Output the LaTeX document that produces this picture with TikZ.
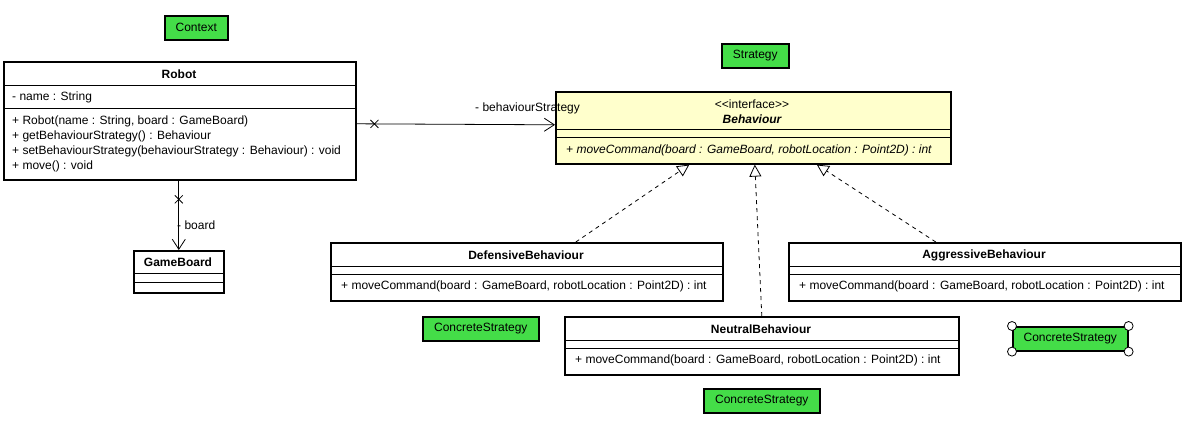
\documentclass[tikz,border=0pt]{standalone}
\usepackage{fontspec}
\setmainfont{Liberation Sans}
\usetikzlibrary{arrows.meta}
\definecolor{umlgreen}{RGB}{68,221,72}
\definecolor{umlyellow}{RGB}{255,255,204}
\begin{document}
\begin{tikzpicture}[x=1pt,y=-1pt,
 every node/.style={font=\fontsize{12}{14}\selectfont, inner sep=0pt},
 classbox/.style={draw, line width=1.6pt, anchor=north west, fill=white},
 sep/.style={line width=0.8pt},
 tag/.style={draw, line width=1.6pt, fill=umlgreen, anchor=north west},
 txt/.style={anchor=west},
 ttl/.style={font=\fontsize{12}{14}\selectfont\bfseries},
 assoc/.style={line width=0.8pt, -{Straight Barb[length=10pt,width=13pt]}},
 realize/.style={line width=0.8pt, dash pattern=on 4pt off 4pt, -{Triangle[open,length=12pt,width=12pt,fill=white]}},
 xmark/.style={line width=0.8pt},
 handle/.style={draw, fill=white, line width=0.8pt}
]
\useasboundingbox (0,0) rectangle (1199,437);

% tags
\node[tag, minimum width=63pt, minimum height=24pt] (ctx) at (164,15) {};
\node (ctxT) at (ctx.center) {Context};
\node[tag, minimum width=67pt, minimum height=24pt] (strat) at (721,43) {};
\node (stratT) at (strat.center) {Strategy};
\node[tag, minimum width=116pt, minimum height=24pt] (cs1) at (422,316) {};
\node (cs1T) at (cs1.center) {ConcreteStrategy};
\node[tag, minimum width=116pt, minimum height=24pt] (cs3) at (703,388) {};
\node (cs3T) at (cs3.center) {ConcreteStrategy};
\node[tag, minimum width=115pt, minimum height=24pt] (cs2) at (1012,326) {};
\node (cs2T) at (cs2.center) {ConcreteStrategy};
\foreach \a in {north west,north east,south west,south east}
  \draw[handle] (cs2.\a) circle[radius=4.5pt];

% Robot
\node[classbox, minimum width=352pt, minimum height=118pt] (robot) at (3,61) {};
\draw[sep] ([yshift=-24pt]robot.north west) -- ([yshift=-24pt]robot.north east);
\draw[sep] ([yshift=-47pt]robot.north west) -- ([yshift=-47pt]robot.north east);
\node[ttl] (robotT) at (179,74) {Robot};
\node[txt] (robotA) at (12,97) {- name : String};
\node[txt] (robotM1) at (12,121) {+ Robot(name : String, board : GameBoard)};
\node[txt] (robotM2) at (12,136) {+ getBehaviourStrategy() : Behaviour};
\node[txt] (robotM3) at (12,151) {+ setBehaviourStrategy(behaviourStrategy : Behaviour) : void};
\node[txt] (robotM4) at (12,166) {+ move() : void};

% Behaviour
\node[classbox, fill=umlyellow, minimum width=395pt, minimum height=72pt] (beh) at (555,91) {};
\draw[sep] ([yshift=-38pt]beh.north west) -- ([yshift=-38pt]beh.north east);
\draw[sep] ([yshift=-46pt]beh.north west) -- ([yshift=-46pt]beh.north east);
\node (behS) at (752,104) {{<}{<}interface{>}{>}};
\node[font=\fontsize{12}{14}\selectfont\bfseries\itshape] (behT) at (752,119) {Behaviour};
\node[txt, font=\fontsize{12}{14}\selectfont\itshape] (behM) at (566,150) {+ moveCommand(board : GameBoard, robotLocation : Point2D) : int};

% GameBoard
\node[classbox, minimum width=90pt, minimum height=42pt] (gb) at (133,250) {};
\draw[sep] ([yshift=-23pt]gb.north west) -- ([yshift=-23pt]gb.north east);
\draw[sep] ([yshift=-32pt]gb.north west) -- ([yshift=-32pt]gb.north east);
\node[ttl] (gbT) at (178,262) {GameBoard};

% Defensive
\node[classbox, minimum width=392pt, minimum height=58pt] (def) at (330,242) {};
\draw[sep] ([yshift=-24pt]def.north west) -- ([yshift=-24pt]def.north east);
\draw[sep] ([yshift=-32pt]def.north west) -- ([yshift=-32pt]def.north east);
\node[ttl] (defT) at (526,255) {DefensiveBehaviour};
\node[txt] (defM) at (341,286) {+ moveCommand(board : GameBoard, robotLocation : Point2D) : int};

% Aggressive
\node[classbox, minimum width=392pt, minimum height=58pt] (agg) at (788,242) {};
\draw[sep] ([yshift=-24pt]agg.north west) -- ([yshift=-24pt]agg.north east);
\draw[sep] ([yshift=-32pt]agg.north west) -- ([yshift=-32pt]agg.north east);
\node[ttl] (aggT) at (984,255) {AggressiveBehaviour};
\node[txt] (aggM) at (799,286) {+ moveCommand(board : GameBoard, robotLocation : Point2D) : int};

% Neutral
\node[classbox, minimum width=394pt, minimum height=58pt] (neu) at (564,316) {};
\draw[sep] ([yshift=-24pt]neu.north west) -- ([yshift=-24pt]neu.north east);
\draw[sep] ([yshift=-32pt]neu.north west) -- ([yshift=-32pt]neu.north east);
\node[ttl] (neuT) at (761,329) {NeutralBehaviour};
\node[txt] (neuM) at (575,360) {+ moveCommand(board : GameBoard, robotLocation : Point2D) : int};

% associations
\draw[assoc] ([yshift=-3pt]robot.east) -- coordinate[pos=0.09] (xa) ([yshift=3pt]beh.west);
\draw[xmark] (xa) +(-4,-4) -- +(4,4) (xa) +(-4,4) -- +(4,-4);
\node[txt] (lblBS) at (475,108) {- behaviourStrategy};
\draw[assoc] (robot.south -| gb.north) -- coordinate[pos=0.27] (xb) (gb.north);
\draw[xmark] (xb) +(-4,-4) -- +(4,4) (xb) +(-4,4) -- +(4,-4);
\node[txt] (lblB) at (177,225) {- board};

% realizations
\draw[realize] ([xshift=49pt]def.north) -- ([xshift=-64pt]beh.south);
\draw[realize] (neu.north) -- ([xshift=1.5pt]beh.south);
\draw[realize] ([xshift=-49pt]agg.north) -- ([xshift=63.5pt]beh.south);
\end{tikzpicture}
\end{document}
